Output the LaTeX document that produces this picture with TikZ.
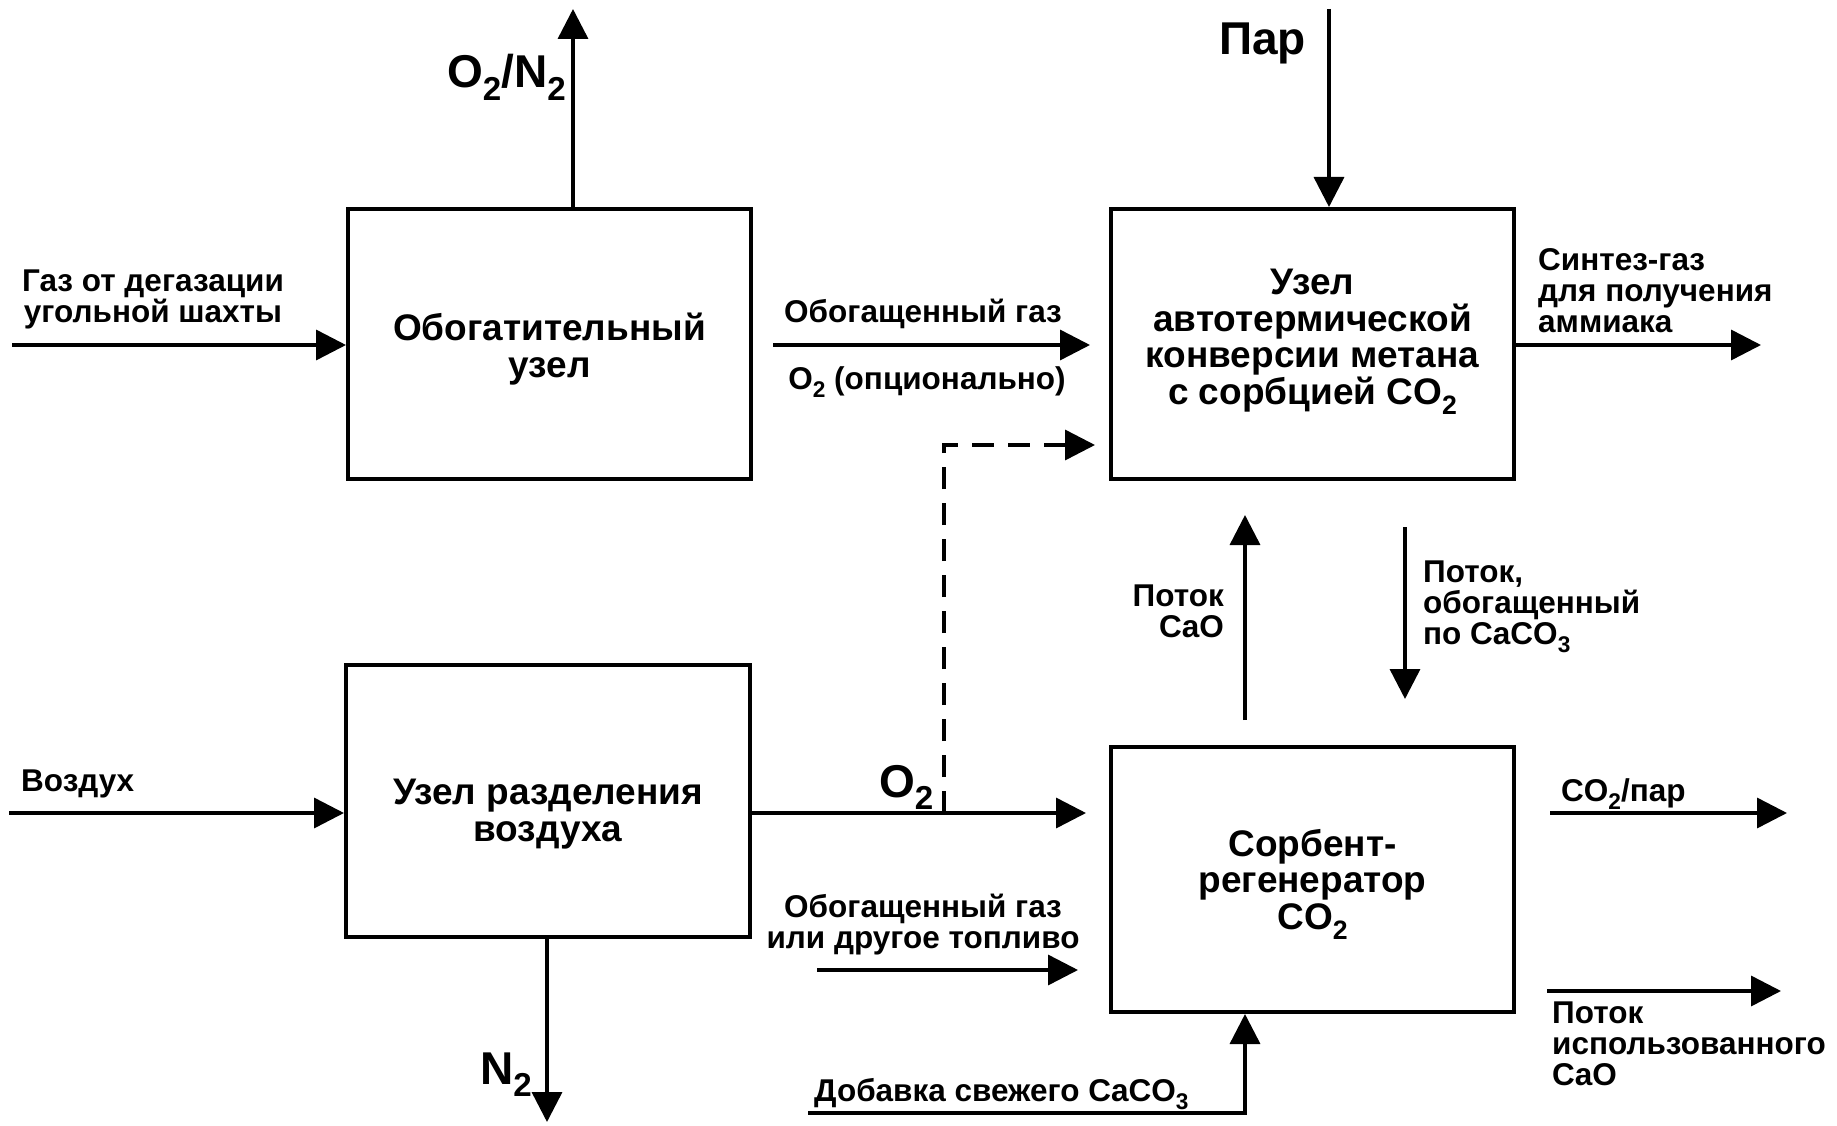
\documentclass[tikz,border=0pt]{standalone}
\usepackage{fontspec}
\setmainfont{Liberation Sans}
\usetikzlibrary{arrows.meta}
\newcommand\lblf{\fontsize{31.5}{31}\selectfont\bfseries}
\newcommand\boxf{\fontsize{37}{36.5}\selectfont\bfseries}
\newcommand\bigf{\fontsize{46}{48}\selectfont\bfseries}
\newcommand\subs[1]{\raisebox{-0.28em}{\scalebox{0.72}{#1}}}
\begin{document}
\begin{tikzpicture}[x=1pt,y=-1pt,
  unit/.style={draw, line width=4pt, inner sep=0pt},
  boxtxt/.style={font=\boxf, align=center, inner sep=0pt},
  lbl/.style={font=\lblf, inner sep=0pt},
  big/.style={font=\bigf, inner sep=0pt},
  flow/.style={line width=3.5pt, -{Triangle[length=30pt,width=30pt]}},
  dflow/.style={flow, dash pattern=on 22pt off 14pt}]
\useasboundingbox (0,0) rectangle (1837,1126);
% boxes
\node[unit, minimum width=403pt, minimum height=270pt] (b1) at (549.5,344) {};
\node[unit, minimum width=403pt, minimum height=270pt] (b2) at (1312.5,344) {};
\node[unit, minimum width=404pt, minimum height=272pt] (b3) at (548,801) {};
\node[unit, minimum width=403pt, minimum height=265pt] (b4) at (1312.5,879.5) {};
% box texts (base = last line)
\node[boxtxt, anchor=base] (t1) at (549.5,377) {Обогатительный\\узел};
\node[boxtxt, anchor=base] (t2) at (1312.5,404) {Узел\\автотермической\\конверсии метана\\с сорбцией CO\subs{2}};
\node[boxtxt, anchor=base] (t3) at (548,841) {Узел разделения\\воздуха};
\node[boxtxt, anchor=base] (t4) at (1312.5,929) {Сорбент-\\регенератор\\CO\subs{2}};
% free ends
\coordinate (cO2N2) at (573,9);
\coordinate (cGas) at (12,345);
\coordinate (cEnrS) at (773,345);
\coordinate (cEnrE) at (1090,345);
\coordinate (cDashS) at (944,813);
\coordinate (cDashE) at (1095,445);
\coordinate (cPar) at (1329,9);
\coordinate (cSyn) at (1761,345);
\coordinate (cCaOs) at (1245,720);
\coordinate (cCaOe) at (1245,515);
\coordinate (cCcS) at (1405,527);
\coordinate (cCcE) at (1405,699);
\coordinate (cAir) at (9,813);
\coordinate (cO2) at (1086,813);
\coordinate (cN2) at (547,1122);
\coordinate (cFuelS) at (817,970);
\coordinate (cFuelE) at (1078,970);
\coordinate (cAdd) at (808,1113);
\coordinate (cCO2s) at (1550,813);
\coordinate (cCO2e) at (1787,813);
\coordinate (cSpS) at (1547,991);
\coordinate (cSpE) at (1781,991);
% connectors
\draw[flow] (b1.north -| cO2N2) -- (cO2N2);
\draw[flow] (cGas) -- (cGas -| b1.west);
\draw[flow] (cEnrS) -- (cEnrE);
\draw[dflow] (cDashS) |- (cDashE);
\draw[flow] (cPar) -- (cPar |- b2.north);
\draw[flow] (b2.east |- cSyn) -- (cSyn);
\draw[flow] (cCaOs) -- (cCaOe);
\draw[flow] (cCcS) -- (cCcE);
\draw[flow] (cAir) -- (cAir -| b3.west);
\draw[flow] (b3.east |- cO2) -- (cO2);
\draw[flow] (b3.south -| cN2) -- (cN2);
\draw[flow] (cFuelS) -- (cFuelE);
\draw[flow] (cAdd) -| (b4.south -| cCaOs);
\draw[flow] (cCO2s) -- (cCO2e);
\draw[flow] (cSpS) -- (cSpE);
% labels (base = last line)
\node[big, anchor=base east] (lO2N2) at (566,88) {O\subs{2}/N\subs{2}};
\node[lbl, align=center, anchor=base] (lGas) at (153,322) {Газ от дегазации\\угольной шахты};
\node[lbl, anchor=base] (lEnr) at (923,322) {Обогащенный газ};
\node[lbl, anchor=base] (lOpt) at (927,389) {O\subs{2} (опционально)};
\node[big, anchor=base east] (lPar) at (1306,55) {Пар};
\node[lbl, align=left, anchor=base west] (lSyn) at (1538,332) {Синтез-газ\\для получения\\аммиака};
\node[lbl, align=right, anchor=base east] (lCaO) at (1224,637) {Поток\\CaO};
\node[lbl, align=left, anchor=base west] (lCc) at (1423,644) {Поток,\\обогащенный\\по CaCO\subs{3}};
\node[lbl, anchor=base west] (lAir) at (21,791) {Воздух};
\node[big, anchor=base west] (lO2) at (879,797) {O\subs{2}};
\node[big, anchor=base west] (lN2) at (480,1084) {N\subs{2}};
\node[lbl, align=center, anchor=base] (lFuel) at (923,948) {Обогащенный газ\\или другое топливо};
\node[lbl, anchor=base west] (lAdd) at (814,1101) {Добавка свежего CaCO\subs{3}};
\node[lbl, anchor=base west] (lCO2) at (1561,801) {CO\subs{2}/пар};
\node[lbl, align=left, anchor=base west] (lSp) at (1552,1085) {Поток\\использованного\\CaO};
\end{tikzpicture}
\end{document}
